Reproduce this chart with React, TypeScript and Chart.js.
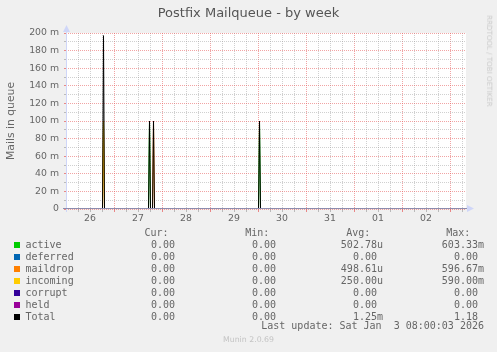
import React, { useEffect, useRef } from "react";
import { Chart, registerables } from "chart.js";

Chart.register(...registerables);

// ---- data (time in hours since Dec 26 00:00, values in mails) ----
const sampleHours = [0, 18.25, 18.75, 19.25, 41.25, 41.75, 42.25, 43.25, 43.75, 44.25, 96.25, 96.75, 97.25, 200];
const activeValues = [0, 0, 0, 0, 0, 0.1, 0, 0, 0, 0, 0, 0.1, 0, 0];
const deferredValues = [0, 0, 0, 0, 0, 0, 0, 0, 0, 0, 0, 0, 0, 0];
const maildropValues = [0, 0, 0.097, 0, 0, 0, 0, 0, 0.1, 0, 0, 0, 0, 0];
const incomingValues = [0, 0, 0.1, 0, 0, 0, 0, 0, 0, 0, 0, 0, 0, 0];
const corruptValues = [0, 0, 0, 0, 0, 0, 0, 0, 0, 0, 0, 0, 0, 0];
const heldValues = [0, 0, 0, 0, 0, 0, 0, 0, 0, 0, 0, 0, 0, 0];
const totalValues = [0, 0, 0.197, 0, 0, 0.1, 0, 0, 0.1, 0, 0, 0.1, 0, 0];

const seriesNames = ["active", "deferred", "maildrop", "incoming", "corrupt", "held", "Total"];
const seriesColors = ["#00CC00", "#0066B3", "#FF8000", "#FFCC00", "#330099", "#990099", "#000000"];
const seriesValues = [activeValues, deferredValues, maildropValues, incomingValues, corruptValues, heldValues, totalValues];

const curValues = ["0.00", "0.00", "0.00", "0.00", "0.00", "0.00", "0.00"];
const minValues = ["0.00", "0.00", "0.00", "0.00", "0.00", "0.00", "0.00"];
const avgValues = ["502.78u", "0.00", "498.61u", "250.00u", "0.00", "0.00", "1.25m"];
const maxValues = ["603.33m", "0.00", "596.67m", "590.00m", "0.00", "0.00", "1.18"];

const dayLabels = ["26", "27", "28", "29", "30", "31", "01", "02"];
const dayLabelHours = [12, 36, 60, 84, 108, 132, 156, 180];
const xGridHours = [0, 6, 12, 18, 24, 30, 36, 42, 48, 54, 60, 66, 72, 78, 84, 90, 96, 102, 108, 114, 120, 126, 132, 138, 144, 150, 156, 162, 168, 174, 180, 186, 192, 198];
const xMajorHours = [24, 48, 72, 96, 120, 144, 168, 192];

const yGridValues = [0, 0.01, 0.02, 0.03, 0.04, 0.05, 0.06, 0.07, 0.08, 0.09, 0.1, 0.11, 0.12, 0.13, 0.14, 0.15, 0.16, 0.17, 0.18, 0.19, 0.2];
const yTickValues = [0, 0.02, 0.04, 0.06, 0.08, 0.1, 0.12, 0.14, 0.16, 0.18, 0.2];
const yTickLabels = ["0", "20 m", "40 m", "60 m", "80 m", "100 m", "120 m", "140 m", "160 m", "180 m", "200 m"];

const MINOR = "rgba(150,150,150,0.45)";
const MAJOR = "rgba(230,90,90,0.55)";
const FONT = '"DejaVu Sans", sans-serif';
const MONO = '"DejaVu Sans Mono", monospace';

const framePlugin = {
  id: "frame",
  beforeDraw(chart: any) {
    const { ctx, chartArea } = chart;
    const { left, top, right, bottom } = chartArea;
    ctx.save();
    ctx.fillStyle = "#ffffff";
    ctx.fillRect(left, top, right - left, bottom - top);
    ctx.restore();
  },
  afterDatasetsDraw(chart: any) {
    const { ctx, chartArea } = chart;
    const { left, top, right, bottom } = chartArea;
    ctx.save();
    // left axis
    ctx.strokeStyle = "#CFD6F8";
    ctx.lineWidth = 1;
    ctx.beginPath();
    ctx.moveTo(left + 0.5, bottom + 3);
    ctx.lineTo(left + 0.5, top - 2);
    ctx.stroke();
    // bottom axis
    ctx.strokeStyle = "#8c8cae";
    ctx.beginPath();
    ctx.moveTo(left - 3, bottom - 0.5);
    ctx.lineTo(right + 1, bottom - 0.5);
    ctx.stroke();
    // arrows
    ctx.fillStyle = "#CFD6F8";
    ctx.beginPath();
    ctx.moveTo(right + 1, bottom - 4);
    ctx.lineTo(right + 8, bottom - 0.5);
    ctx.lineTo(right + 1, bottom + 3);
    ctx.closePath();
    ctx.fill();
    ctx.beginPath();
    ctx.moveTo(left - 3, top - 1);
    ctx.lineTo(left + 0.5, top - 8);
    ctx.lineTo(left + 4, top - 1);
    ctx.closePath();
    ctx.fill();
    ctx.restore();
  },
};

function findLabel(values: number[], labels: string[], v: number) {
  for (let i = 0; i < values.length; i++) {
    if (Math.abs(values[i] - v) < 1e-6) return labels[i];
  }
  return "";
}

function ChartCanvas() {
  const ref = useRef<HTMLCanvasElement | null>(null);
  useEffect(() => {
    if (!ref.current) return;
    const datasets = seriesNames.map((name, i) => ({
      label: name,
      data: sampleHours.map((h, j) => ({ x: h, y: seriesValues[i][j] })),
      borderColor: seriesColors[i],
      backgroundColor: seriesColors[i],
      borderWidth: 1,
      pointRadius: 0,
      tension: 0,
      fill: false,
      order: seriesNames.length - i,
    }));
    const chart = new Chart(ref.current, {
      type: "line",
      data: { datasets },
      plugins: [framePlugin],
      options: {
        animation: false,
        responsive: false,
        devicePixelRatio: 1,
        layout: { padding: { top: 33, right: 31, bottom: 123, left: 0 } },
        plugins: { legend: { display: false }, tooltip: { enabled: false }, title: { display: false } },
        scales: {
          x: {
            type: "linear",
            min: 0,
            max: 200,
            afterBuildTicks: (s: any) => {
              s.ticks = xGridHours.map((v) => ({ value: v }));
            },
            afterFit: (s: any) => {
              s.height = 20;
            },
            grid: {
              color: (c: any) => (xMajorHours.includes(c.tick?.value) ? MAJOR : MINOR),
              tickColor: (c: any) => (xMajorHours.includes(c.tick?.value) ? "rgba(230,90,90,0.7)" : "rgba(150,150,150,0.6)"),
              lineWidth: 1,
              drawTicks: true,
              tickLength: 3,
            },
            border: { display: false, dash: [1, 1] },
            ticks: {
              autoSkip: false,
              maxRotation: 0,
              padding: 1,
              color: "#666666",
              font: { family: FONT, size: 9.33 },
              callback: (v: any) => findLabel(dayLabelHours, dayLabels, Number(v)),
            },
          },
          y: {
            type: "linear",
            min: 0,
            max: 0.2,
            afterBuildTicks: (s: any) => {
              s.ticks = yGridValues.map((v) => ({ value: v }));
            },
            afterFit: (s: any) => {
              s.width = 66;
            },
            grid: {
              color: (c: any) => (findLabel(yTickValues, yTickLabels, c.tick?.value) !== "" ? MAJOR : MINOR),
              tickColor: (c: any) => (findLabel(yTickValues, yTickLabels, c.tick?.value) !== "" ? "rgba(230,90,90,0.7)" : "rgba(150,150,150,0.6)"),
              lineWidth: 1,
              drawTicks: true,
              tickLength: 2,
            },
            border: { display: false, dash: [1, 1] },
            ticks: {
              autoSkip: false,
              padding: 5,
              color: "#666666",
              font: { family: FONT, size: 9.33 },
              callback: (v: any) => findLabel(yTickValues, yTickLabels, Number(v)),
            },
            title: {
              display: true,
              text: "Mails in queue",
              color: "#666666",
              font: { family: FONT, size: 10.8 },
              padding: { top: 4.5, bottom: 0 },
            },
          },
        },
      },
    } as any);
    return () => chart.destroy();
  }, []);
  return <canvas ref={ref} width={497} height={352} style={{ position: "absolute", left: 0, top: 0, width: 497, height: 352 }} />;
}

export default function App() {
  const rowTop = (i: number) => 238.5 + 12 * i;
  const txt: React.CSSProperties = {
    position: "absolute",
    fontFamily: MONO,
    fontSize: 10,
    lineHeight: "12px",
    color: "#666666",
    whiteSpace: "pre",
  };
  const rightCell = (text: string, right: number, top: number, key: string) => {
    const shown = /[a-zA-Z]$/.test(text) ? text : text + " ";
    return (
      <div key={key} style={{ ...txt, top, left: right - 120, width: 120, textAlign: "right" }}>
        {shown}
      </div>
    );
  };
  return (
    <div
      style={{
        position: "fixed",
        left: 0,
        top: 0,
        width: 497,
        height: 352,
        background: "#f0f0f0",
        overflow: "hidden",
        fontFamily: FONT,
      }}
    >
      <ChartCanvas />
      <div
        style={{
          position: "absolute",
          left: 0,
          width: 497,
          top: 5.3,
          textAlign: "center",
          fontFamily: FONT,
          fontSize: 13,
          lineHeight: "16px",
          color: "#555555",
          whiteSpace: "pre",
        }}
      >
        Postfix Mailqueue - by week
      </div>
      <div
        style={{
          position: "absolute",
          left: 489,
          top: 61,
          transform: "translate(-50%, -50%) rotate(90deg)",
          fontFamily: FONT,
          fontSize: 7.1,
          lineHeight: "8px",
          color: "#cccccc",
          whiteSpace: "nowrap",
        }}
      >
        RRDTOOL / TOBI OETIKER
      </div>
      <div style={{ ...txt, top: 227, left: 144.5 }}>Cur:</div>
      <div style={{ ...txt, top: 227, left: 245.2 }}>Min:</div>
      <div style={{ ...txt, top: 227, left: 346.2 }}>Avg:</div>
      <div style={{ ...txt, top: 227, left: 446.2 }}>Max:</div>
      {seriesNames.map((name, i) => (
        <React.Fragment key={name}>
          <div
            style={{
              position: "absolute",
              left: 14,
              top: rowTop(i) + 3.5,
              width: 6,
              height: 6,
              background: seriesColors[i],
            }}
          />
          <div style={{ ...txt, top: rowTop(i), left: 25.5 }}>{name}</div>
          {rightCell(curValues[i], 181, rowTop(i), name + "c")}
          {rightCell(minValues[i], 282, rowTop(i), name + "n")}
          {rightCell(avgValues[i], 383, rowTop(i), name + "a")}
          {rightCell(maxValues[i], 484, rowTop(i), name + "x")}
        </React.Fragment>
      ))}
      <div style={{ ...txt, top: 320.3, left: 484 - 300, width: 300, textAlign: "right" }}>
        Last update: Sat Jan  3 08:00:03 2026
      </div>
      <div
        style={{
          position: "absolute",
          left: 0,
          width: 497,
          top: 335,
          textAlign: "center",
          fontFamily: FONT,
          fontSize: 7.8,
          lineHeight: "10px",
          color: "#c4c4c4",
          whiteSpace: "pre",
        }}
      >
        Munin 2.0.69
      </div>
    </div>
  );
}
